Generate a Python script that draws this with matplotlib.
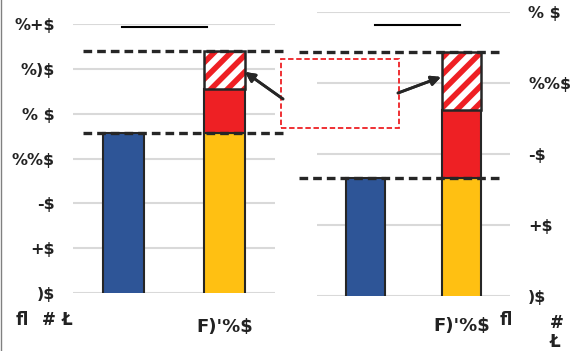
import matplotlib
matplotlib.use("Agg")
import matplotlib.pyplot as plt
from matplotlib.lines import Line2D
from matplotlib.patches import Rectangle

# bar values for the two panels
left_base = [121.5, 121.5]      # blue, yellow
left_red = 19.5
left_hatch = 17.0
right_base = [83.2, 83.2]
right_red = 19.2
right_hatch = 16.4

left_ticks = [50, 70, 90, 110, 130, 150, 170]
left_ticklabels = [")$", "+$", "-$", "%%$", "% $", "%)$", "%+$"]
right_ticks = [50, 70, 90, 110, 130]
right_ticklabels = [")$", "+$", "-$", "%%$", "% $"]
xlabels = ["", "F)'%$"]

blue = "#2E5597"
yellow = "#FFC012"
red = "#EE2024"
dark = "#262626"
grid = "#D9D9D9"

plt.rcParams["font.family"] = "DejaVu Sans"
plt.rcParams["font.weight"] = "bold"
plt.rcParams["hatch.linewidth"] = 4.0

fig = plt.figure(figsize=(5.73, 3.51), dpi=100)
ax1 = fig.add_axes([0.1274, 0.1652, 0.3525, 0.7664])
ax2 = fig.add_axes([0.5532, 0.1567, 0.3368, 0.8091])


def panel(ax, base, red_h, hatch_h, ticks, ticklabels, side, dash_x, xpad):
    x = [0, 1]
    ax.bar(x[0], base[0], width=0.4, color=blue, edgecolor=dark, linewidth=1.5, zorder=3)
    ax.bar(x[1], base[1], width=0.4, color=yellow, edgecolor=dark, linewidth=1.5, zorder=3)
    ax.bar(x[1], red_h, bottom=base[1], width=0.4, color=red, edgecolor=dark, linewidth=1.5, zorder=3)
    # hatched segment: red stripes on white, black outline on top
    top = base[1] + red_h
    ax.bar(x[1], hatch_h, bottom=top, width=0.4, color="white", edgecolor=red,
           hatch="//", linewidth=0, zorder=3)
    ax.bar(x[1], hatch_h, bottom=top, width=0.4, fill=False, edgecolor=dark,
           linewidth=1.8, zorder=4)

    for yv in (base[1], top + hatch_h):
        ax.plot(dash_x, [yv, yv], color=dark, linewidth=2.4, dashes=(2.6, 1.5),
                clip_on=False, zorder=5)

    ax.set_xlim(-0.5, 1.5)
    ax.set_ylim(ticks[0], ticks[-1])
    ax.set_yticks(ticks)
    ax.set_yticklabels(ticklabels, fontsize=11.5, color="#222222")
    ax.set_xticks(x)
    ax.set_xticklabels(xlabels, fontsize=13, color="#222222")
    ax.tick_params(axis="x", length=0, pad=xpad)
    ax.tick_params(axis="y", length=0, pad=13)
    if side == "right":
        ax.yaxis.tick_right()
        ax.tick_params(axis="y", length=0, pad=13)
    ax.grid(axis="y", color=grid, linewidth=1.5, zorder=0)
    ax.set_axisbelow(True)
    for s in ax.spines.values():
        s.set_visible(False)


panel(ax1, left_base, left_red, left_hatch, left_ticks, left_ticklabels, "left",
      [-0.40, 1.60], 18)
panel(ax2, right_base, right_red, right_hatch, right_ticks, right_ticklabels, "right",
      [-0.69, 1.42], 15)

W, H = 573.0, 351.0


def fx(px):
    return px / W


def fy(py):
    return 1 - py / H


# short heading rules above each panel
fig.add_artist(Line2D([fx(122), fx(207)], [fy(27), fy(27)], color="black", linewidth=1.5))
fig.add_artist(Line2D([fx(375), fx(460)], [fy(25), fy(25)], color="black", linewidth=1.5))

# dashed call-out box with arrows to the hatched segments
fig.add_artist(Rectangle((fx(281), fy(128)), fx(399) - fx(281), fy(59) - fy(128),
                         fill=False, edgecolor=red, linewidth=1.3, linestyle=(0, (3, 1.5))))
fig.add_artist(plt.annotate("", xy=(fx(245), fy(72)), xytext=(fx(283), fy(99)),
                            xycoords="figure fraction",
                            arrowprops=dict(arrowstyle="-|>", color=dark, lw=2,
                                            mutation_scale=14, shrinkA=0, shrinkB=0)))
fig.add_artist(plt.annotate("", xy=(fx(441), fy(77)), xytext=(fx(398), fy(93)),
                            xycoords="figure fraction",
                            arrowprops=dict(arrowstyle="-|>", color=dark, lw=2,
                                            mutation_scale=14, shrinkA=0, shrinkB=0)))

# unit marks
fig.text(fx(16), fy(320), "\ufb02", fontsize=12, color="#222222", va="center")
fig.text(fx(42), fy(320), "#", fontsize=12, color="#222222", va="center")
fig.text(fx(62), fy(320), "\u0141", fontsize=12, color="#222222", va="center")
fig.text(fx(500), fy(320), "\ufb02", fontsize=12, color="#222222", va="center")
fig.text(fx(550), fy(323), "#", fontsize=12, color="#222222", va="center")
fig.text(fx(550), fy(342), "\u0141", fontsize=12, color="#222222", va="center")

# thin border on the left edge
fig.add_artist(Line2D([fx(0.5), fx(0.5)], [0, 1], color="#808080", linewidth=1))

fig.savefig("out.png", dpi=100)
